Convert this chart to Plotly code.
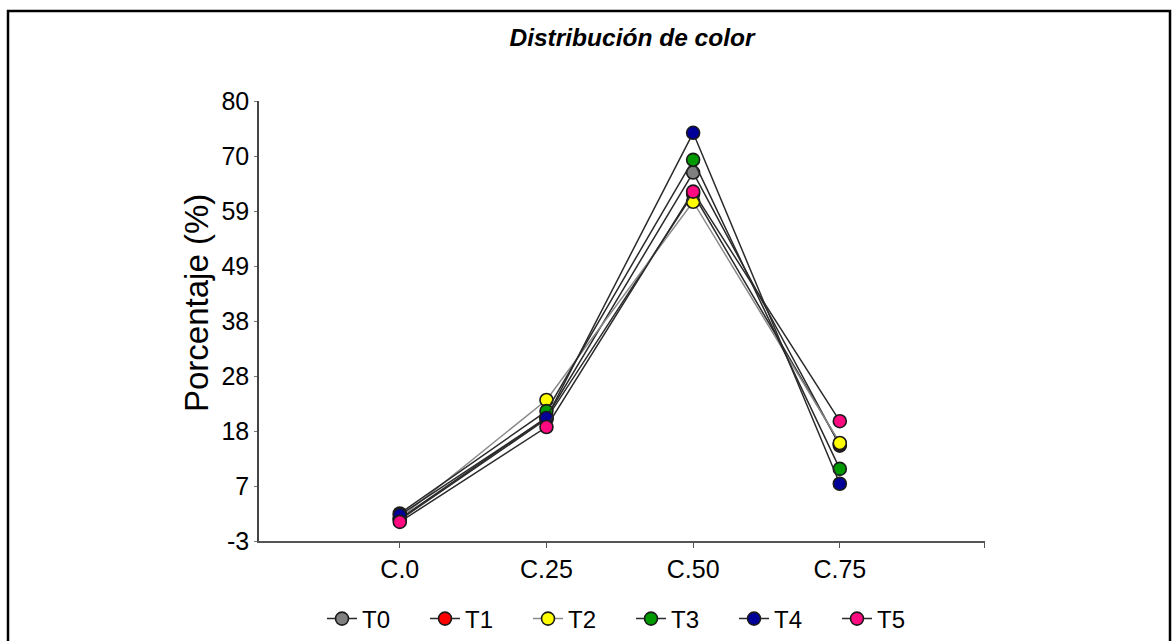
import plotly.graph_objects as go

categories = ["C.0", "C.25", "C.50", "C.75"]
series_names = ["T0", "T1", "T2", "T3", "T4", "T5"]
t0 = [1.2, 20.3, 66.5, 15.0]
t1 = [1.0, 20.0, 62.5, 15.3]
t2 = [1.3, 23.6, 61.0, 15.5]
t3 = [2.2, 21.5, 68.9, 10.6]
t4 = [1.9, 20.2, 74.0, 7.8]
t5 = [0.6, 18.5, 62.9, 19.6]
series_values = [t0, t1, t2, t3, t4, t5]
marker_colors = ["#808080", "#FF0000", "#FFFF00", "#009A00", "#000099", "#FF0A80"]
line_colors = ["#2a2a2a", "#2a2a2a", "#8a8a8a", "#2a2a2a", "#2a2a2a", "#2a2a2a"]
y_tickvals = [-3 + 10.375 * k for k in range(9)]
y_ticktext = ["-3", "7", "18", "28", "38", "49", "59", "70", "80"]

FONT = "Liberation Sans Narrow, Arial Narrow, Liberation Sans, Arial, sans-serif"

fig = go.Figure()
for name, vals, mc, lc in zip(series_names, series_values, marker_colors, line_colors):
    fig.add_trace(go.Scatter(
        x=list(range(len(categories))), y=vals, name=name,
        mode="lines+markers",
        line=dict(color=lc, width=1.5),
        marker=dict(color=mc, size=13, line=dict(color="#1a1a1a", width=1.6)),
    ))

L, R, T, B = 259, 985, 101, 541
W, H = 1172, 641
X_RANGE = [-0.96, 3.99]
def px(x):
    return (x - L) / (R - L)
def py(y):
    return (B - y) / (B - T)

fig.update_layout(
    width=W, height=H,
    margin=dict(l=L, r=W - R, t=T, b=H - B, autoexpand=False),
    paper_bgcolor="white", plot_bgcolor="white",
    font=dict(family=FONT, size=25, color="black"),
    title=dict(text="<b><i>Distribución de color</i></b>", x=632 / W, xanchor="center",
               y=1 - 37 / H, yanchor="middle",
               font=dict(family="Liberation Sans, Arial, sans-serif", size=24.5, color="black")),
    showlegend=True,
    legend=dict(orientation="h", xref="container", yref="container",
                x=631 / W, xanchor="center", y=1 - 619 / H, yanchor="middle",
                font=dict(family=FONT, size=24), itemwidth=30, tracegroupgap=0,
                entrywidth=58, entrywidthmode="pixels",
                bgcolor="rgba(0,0,0,0)"),
    xaxis=dict(
        range=X_RANGE, tickvals=list(range(len(categories))) + [X_RANGE[1] - 0.005],
        ticktext=categories + [""],
        showline=True, linecolor="#555555", linewidth=1.5,
        ticks="outside", ticklen=5, tickcolor="#555555",
        showgrid=False, zeroline=False, automargin=False,
        tickfont=dict(family=FONT, size=25),
    ),
    yaxis=dict(
        range=[-3, 80], tickvals=y_tickvals, ticktext=y_ticktext,
        showline=True, linecolor="#444444", linewidth=1.5,
        ticks="outside", ticklen=3, tickcolor="#777777",
        showgrid=False, zeroline=False, automargin=False,
        tickfont=dict(family=FONT, size=25),
    ),
    annotations=[
        dict(text="Porcentaje (%)", textangle=-90, xref="paper", yref="paper",
             x=px(196), y=py(303), xanchor="center", yanchor="middle", showarrow=False,
             font=dict(family="Liberation Sans, Arial, sans-serif", size=33, color="black")),
    ],
    shapes=[
        dict(type="rect", xref="paper", yref="paper",
             x0=px(8), x1=px(1170), y0=py(660), y1=py(11),
             line=dict(color="black", width=2.5), fillcolor="rgba(0,0,0,0)"),
    ],
)

fig.write_html("out.html", config={"displayModeBar": False},
               post_script="document.body.style.margin='0';")
